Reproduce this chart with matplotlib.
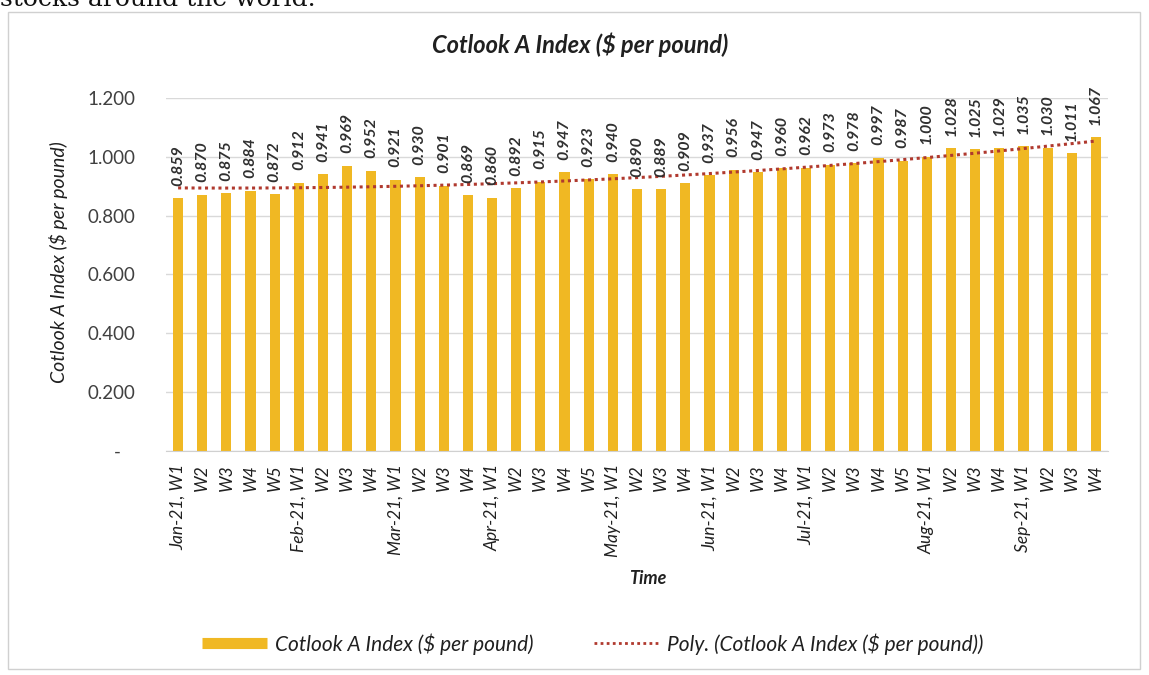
import matplotlib.pyplot as plt
import numpy as np
from matplotlib.lines import Line2D
from matplotlib.patches import Rectangle
from matplotlib.ticker import FuncFormatter

plt.rcParams['font.family'] = ['Lato', 'DejaVu Sans']

# Weekly Cotlook A index values, $ per pound
weeks = ['Jan-21, W1', 'W2', 'W3', 'W4', 'W5',
         'Feb-21, W1', 'W2', 'W3', 'W4',
         'Mar-21, W1', 'W2', 'W3', 'W4',
         'Apr-21, W1', 'W2', 'W3', 'W4', 'W5',
         'May-21, W1', 'W2', 'W3', 'W4',
         'Jun-21, W1', 'W2', 'W3', 'W4',
         'Jul-21, W1', 'W2', 'W3', 'W4', 'W5',
         'Aug-21, W1', 'W2', 'W3', 'W4',
         'Sep-21, W1', 'W2', 'W3', 'W4']
index_values = [0.859, 0.870, 0.875, 0.884, 0.872,
                0.912, 0.941, 0.969, 0.952,
                0.921, 0.930, 0.901, 0.869,
                0.860, 0.892, 0.915, 0.947, 0.923,
                0.940, 0.890, 0.889, 0.909,
                0.937, 0.956, 0.947, 0.960,
                0.962, 0.973, 0.978, 0.997, 0.987,
                1.000, 1.028, 1.025, 1.029,
                1.035, 1.030, 1.011, 1.067]

gold = '#F0B823'
trend_color = '#B0392E'
text_color = '#404040'

x = np.arange(len(weeks))
y = np.array(index_values)

# polynomial trendline (order 2), like Excel's "Poly." trendline
coef = np.polyfit(x, y, 2)
trend = np.polyval(coef, x)

fig = plt.figure(figsize=(11.49, 6.75), dpi=100)
ax = fig.add_axes([0.1445, 0.332, 0.8198, 0.523])

ax.bar(x, y, width=0.42, color=gold, zorder=2)
ax.plot(x, trend, linestyle=(0, (1, 1.2)), color=trend_color, linewidth=2.2, zorder=3)

for i, v in enumerate(y):
    ax.annotate(f'{v:.3f}', (i, v), xytext=(0, 9), textcoords='offset points',
                rotation=90, ha='center', va='bottom', fontsize=11.5, fontweight='bold',
                fontstyle='italic', color='#303030', annotation_clip=False)

ax.set_xlim(-0.5, len(weeks) - 0.5)
ax.set_ylim(0, 1.2)
ax.set_yticks(np.arange(0, 1.21, 0.2))
ax.yaxis.set_major_formatter(FuncFormatter(lambda v, p: '-   ' if abs(v) < 1e-9 else f'{v:.3f}'))
ax.yaxis.grid(True, color='#d9d9d9', linewidth=1)
ax.set_axisbelow(True)
for s in ['top', 'right', 'left']:
    ax.spines[s].set_visible(False)
ax.spines['bottom'].set_color('#d0d0d0')
ax.tick_params(length=0)
ax.tick_params(axis='y', labelsize=13.5, labelcolor=text_color, pad=22)

ax.set_xticks(x)
ax.set_xticklabels(weeks, rotation=90, fontsize=12.5, fontstyle='italic', color='#202020')
ax.tick_params(axis='x', pad=9.5)

fig.text(0.505, 1 - 45 / 675, 'Cotlook A Index ($ per pound)', ha='center', va='center',
         fontsize=17, fontweight='bold', fontstyle='italic', color='#202020')
fig.text(58 / 1149, 1 - 262 / 675, 'Cotlook A Index ($ per pound)', rotation=90,
         ha='center', va='center', fontsize=14, fontstyle='italic', color='#202020')
fig.text(0.564, 1 - 578 / 675, 'Time', ha='center', va='center',
         fontsize=13, fontweight='bold', fontstyle='italic', color='#202020')

handles = [Line2D([], [], color=gold, linewidth=8, solid_capstyle='butt'),
           Line2D([], [], color=trend_color, linestyle=(0, (1, 1.2)), linewidth=2)]
labels = ['Cotlook A Index ($ per pound)', 'Poly. (Cotlook A Index ($ per pound))']
leg = fig.legend(handles, labels, loc='center', bbox_to_anchor=(0.516, 0.046), ncol=2,
                 frameon=False, handlelength=3.1, columnspacing=2.9, handletextpad=0.4,
                 prop={'size': 15, 'style': 'italic'})
for t in leg.get_texts():
    t.set_color('#202020')

# chart border and the cut-off text above it from the page
fig.patches.append(Rectangle((8 / 1149, 6 / 675), 1132 / 1149, 657 / 675, fill=False,
                             edgecolor='#d0d0d0', linewidth=1, transform=fig.transFigure))
fig.text(0.0, 1 - 6 / 675, 'stocks around the world.', ha='left', va='baseline',
         fontsize=18, fontfamily='DejaVu Serif', color='#111111')

fig.savefig('out.png', dpi=100)
